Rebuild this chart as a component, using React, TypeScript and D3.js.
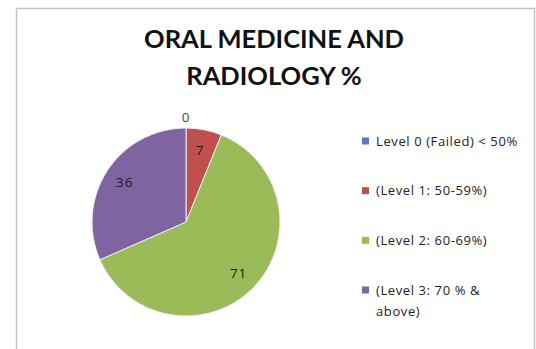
import React from "react";
import * as d3 from "d3";

const categories = [
  "Level 0 (Failed) < 50%",
  "(Level 1: 50-59%)",
  "(Level 2: 60-69%)",
  "(Level 3: 70 % & above)",
];
const legendLines = [
  ["Level 0 (Failed) < 50%"],
  ["(Level 1: 50-59%)"],
  ["(Level 2: 60-69%)"],
  ["(Level 3: 70 % &", "above)"],
];
const values = [0, 7, 71, 36];
const colors = ["#4F81BD", "#C0504D", "#9BBB59", "#8064A2"];
const titleLines = ["ORAL MEDICINE AND", "RADIOLOGY %"];

const W = 536;
const H = 349;
const cx = 186;
const cy = 222;
const R = 94;
const TITLE_FONT = "Lato, 'Open Sans', sans-serif";
const FONT = "'Open Sans', Lato, sans-serif";

export default function App() {
  const pie = d3
    .pie<number>()
    .sort(null)
    .startAngle(0)
    .endAngle(2 * Math.PI)
    .value((d) => d);
  const arcs = pie(values);
  const arc = d3.arc<d3.PieArcDatum<number>>().innerRadius(0).outerRadius(R);
  const labelArc = d3
    .arc<d3.PieArcDatum<number>>()
    .innerRadius(R * 0.78)
    .outerRadius(R * 0.78);
  const outArc = d3
    .arc<d3.PieArcDatum<number>>()
    .innerRadius(R + 11)
    .outerRadius(R + 11);

  const legendY = d3
    .scalePoint<string>()
    .domain(categories)
    .range([141, 290]);

  return (
    <svg
      width={W}
      height={H}
      style={{ position: "absolute", left: 0, top: 0, background: "#fff" }}
    >
      <rect x={0} y={0} width={W} height={H} fill="#fff" />
      <rect
        x={16.5}
        y={8.5}
        width={518}
        height={360}
        fill="#fff"
        stroke="#c4c4c4"
        strokeWidth={1.5}
      />
      <g fontFamily={TITLE_FONT} fontWeight="bold" fontSize={25.5} fill="#111" textAnchor="middle">
        {titleLines.map((t, i) => (
          <text key={i} x={274} y={48 + i * 37}>
            {t}
          </text>
        ))}
      </g>
      <g transform={`translate(${cx},${cy})`}>
        {arcs.map((a, i) => (
          <path
            key={i}
            d={arc(a) || ""}
            fill={colors[i]}
            stroke="#f0f0f0"
            strokeWidth={1}
          />
        ))}
        {arcs.map((a, i) => {
          const [x, y] = a.value === 0 ? outArc.centroid(a) : labelArc.centroid(a);
          return (
            <text
              key={"l" + i}
              x={x}
              y={y}
              dy="0.35em"
              textAnchor="middle"
              fontFamily={FONT}
              fontSize={13.5}
              letterSpacing={0.8}
              fill={a.value === 0 ? "#444" : "#1a1a1a"}
            >
              {a.value}
            </text>
          );
        })}
      </g>
      <g fontFamily={FONT} fontSize={13} letterSpacing={0.6} fill="#222">
        {categories.map((c, i) => {
          const y = legendY(c) as number;
          return (
            <g key={c}>
              <rect x={362} y={y - 3.5} width={7} height={7} fill={colors[i]} />
              {legendLines[i].map((ln, j) => (
                <text key={j} x={376} y={y + 4.5 + j * 21}>
                  {ln}
                </text>
              ))}
            </g>
          );
        })}
      </g>
    </svg>
  );
}
